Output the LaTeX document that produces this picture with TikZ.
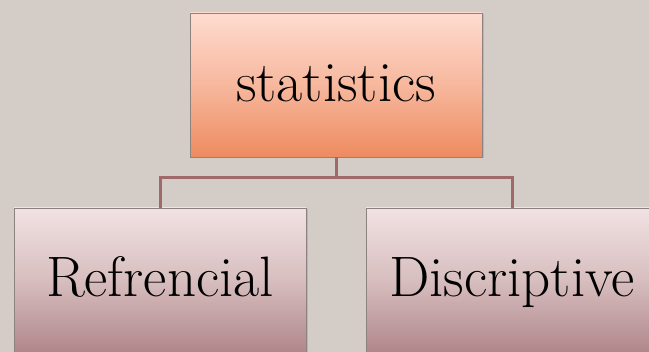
\documentclass[tikz,border=0pt]{standalone}
\usetikzlibrary{shadows}
\definecolor{bg}{HTML}{D4CDC7}
\definecolor{topA}{HTML}{FEDCD0}
\definecolor{topB}{HTML}{EE8B60}
\definecolor{subA}{HTML}{F2E2E3}
\definecolor{subB}{HTML}{B0878A}
\definecolor{conn}{HTML}{A06A6C}
\definecolor{edge}{HTML}{8C8282}
\begin{document}
\begin{tikzpicture}[x=1pt,y=-1pt,
  box/.style={rectangle, draw=edge, line width=0.7pt, minimum width=292pt, minimum height=144pt,
    inner sep=0pt, text height=40pt, text depth=6pt,
    font=\fontsize{57}{60}\selectfont,
    drop shadow={opacity=0.3, shadow xshift=1.5pt, shadow yshift=-1.5pt}},
  topbox/.style={box, top color=topA, bottom color=topB, middle color=topA!55!topB},
  subbox/.style={box, top color=subA, bottom color=subB, middle color=subA!60!subB},
  link/.style={draw=conn, line width=3pt}]
\useasboundingbox (0,0) rectangle (649,352);
\fill[bg] (0,0) rectangle (649,352);
\clip (0,0) rectangle (649,352);
\node[topbox] (stat) at (336,85) {statistics};
\node[subbox] (ref) at (160,280) {Refrencial};
\node[subbox] (dis) at (512,280) {Discriptive};
\coordinate (mid) at (336,178);
\draw[link] (stat.south) -- (mid) -| (ref.north);
\draw[link] (mid) -| (dis.north);
\end{tikzpicture}
\end{document}
